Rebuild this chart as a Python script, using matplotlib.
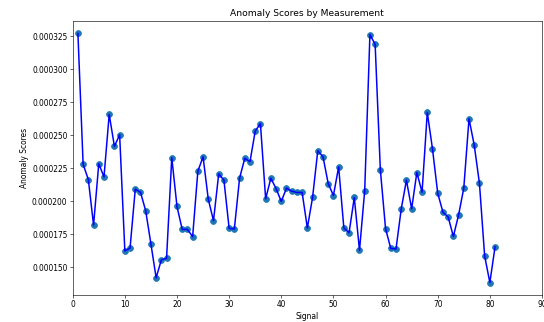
import matplotlib
matplotlib.use("Agg")
import matplotlib.pyplot as plt

# signal index 1..81 and the anomaly score for each (values in units of 1e-6)
signals = list(range(1, 82))
scores_e6 = [
    327.3, 228.1, 216.5, 182.0, 228.5, 218.5, 265.9, 241.7, 250.5, 162.4,
    164.6, 209.2, 206.9, 192.8, 167.7, 142.0, 155.6, 156.8, 233.1, 196.1,
    178.7, 178.7, 173.2, 222.8, 233.8, 201.6, 185.3, 220.8, 216.1, 179.5,
    179.0, 217.5, 232.6, 230.1, 253.2, 259.0, 201.9, 217.5, 209.7, 199.9,
    210.0, 207.7, 206.7, 206.7, 179.8, 202.9, 238.4, 233.8, 213.5, 204.4,
    226.1, 179.8, 176.2, 202.9, 162.8, 208.2, 326.5, 319.0, 223.8, 179.2,
    164.3, 163.8, 194.1, 216.0, 194.3, 221.8, 206.9, 267.4, 239.7, 206.2,
    191.8, 188.1, 173.4, 189.6, 210.0, 262.6, 242.7, 213.7, 158.6, 138.4,
    165.6,
]
scores = [v * 1e-6 for v in scores_e6]

DPI = 54.4
fig = plt.figure(figsize=(544 / DPI, 322 / DPI), dpi=DPI)
ax = fig.add_axes([72.7 / 544, 1 - 295 / 322, (542 - 72.7) / 544, (295 - 21) / 322])

ax.scatter(signals, scores, s=60, color='C0', zorder=2)
ax.plot(signals, scores, color='blue', linewidth=2, zorder=3)

ax.set_xlim(0, 90)
ax.set_title('Anomaly Scores by Measurement')
ax.set_xlabel('Signal')
ax.set_ylabel('Anomaly Scores')
ax.ticklabel_format(axis='y', style='plain', useOffset=False)
ax.yaxis.set_major_formatter(matplotlib.ticker.FormatStrFormatter('%.6f'))

fig.savefig('out.png', dpi=DPI)
